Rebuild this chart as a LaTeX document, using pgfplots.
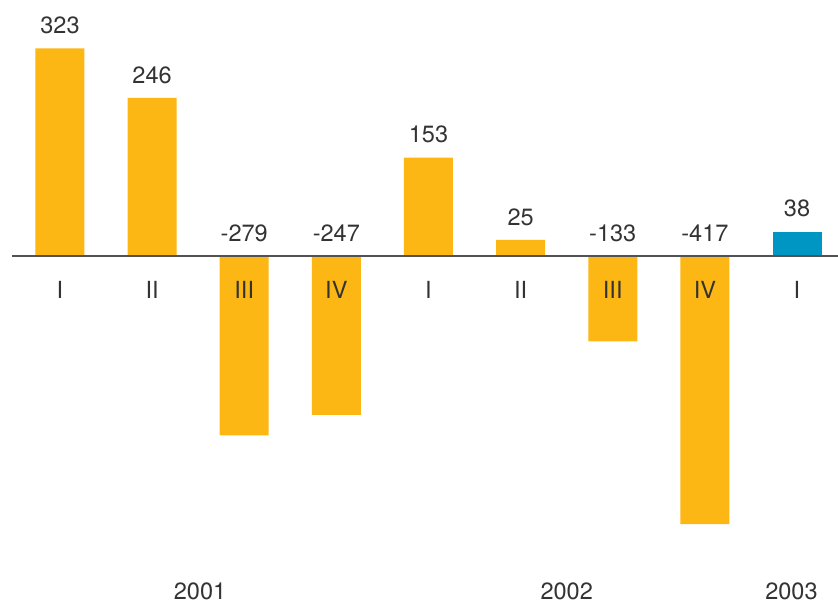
\documentclass[border=0pt]{standalone}
\usepackage{fontspec}
\setmainfont{TeX Gyre Heros}
\usepackage{pgfplots}
\pgfplotsset{compat=1.18}
\definecolor{barorange}{RGB}{252,183,20}
\definecolor{barblue}{RGB}{0,150,196}
\definecolor{txt}{RGB}{51,51,51}
\begin{document}
\begin{tikzpicture}
\begin{axis}[
    name=ax,
    scale only axis,
    width=16.76cm, height=12.14cm,
    xmin=-0.651, xmax=8.445,
    ymin=-545.9, ymax=398.1,
    hide axis,
    clip=false,
    every node near coord/.append style={font=\fontsize{13.4}{16}\selectfont, text=txt, inner sep=0pt},
]
% bars
\addplot[ybar, bar width=0.98cm, bar shift=0pt, fill=barorange, draw=none] coordinates {
(0,323) (1,246) (2,-279) (3,-247) (4,153) (5,25) (6,-133) (7,-417)
};
\addplot[ybar, bar width=0.98cm, bar shift=0pt, fill=barblue, draw=none] coordinates {
(8,38)
};
% zero line
\draw[color=txt!85, line width=0.8pt] (axis cs:-0.521,0) -- (axis cs:8.445,0);
% value labels
\addplot[draw=none, mark=none, nodes near coords, point meta=explicit symbolic,
    every node near coord/.append style={anchor=south, yshift=0.28cm}] coordinates {
(0,323) [323] (1,246) [246] (2,0) [-279] (3,0) [-247] (4,153) [153]
(5,25) [25] (6,0) [-133] (7,0) [-417] (8,38) [38]
};
% quarter labels
\addplot[draw=none, mark=none, nodes near coords, point meta=explicit symbolic,
    every node near coord/.append style={anchor=north, yshift=-0.5cm}] coordinates {
(0,0) [I] (1,0) [II] (2,0) [III] (3,0) [IV] (4,0) [I]
(5,0) [II] (6,0) [III] (7,0) [IV] (8,0) [I]
};
% year labels
\addplot[draw=none, mark=none, nodes near coords, point meta=explicit symbolic,
    every node near coord/.append style={anchor=center}] coordinates {
(1.52,-522) [2001] (5.5,-522) [2002] (7.94,-522) [2003]
};
\end{axis}
\pgfresetboundingbox
\path (ax.south west) rectangle (ax.north east);
\end{tikzpicture}
\end{document}
